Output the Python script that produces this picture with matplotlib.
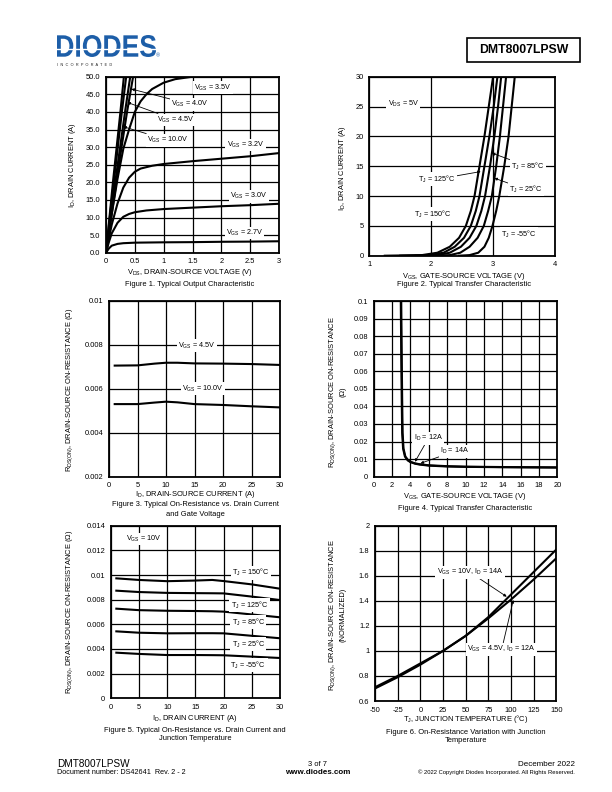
import numpy as np
import matplotlib
matplotlib.use('Agg')
import matplotlib.pyplot as plt
from matplotlib.textpath import TextPath
from matplotlib.font_manager import FontProperties
from matplotlib.patches import PathPatch, Rectangle
from matplotlib.transforms import Affine2D
from matplotlib.ticker import FixedLocator, FixedFormatter
from matplotlib.lines import Line2D

plt.rcParams['font.family'] = ['Liberation Sans', 'DejaVu Sans']
plt.rcParams['mathtext.fontset'] = 'custom'
plt.rcParams['mathtext.rm'] = 'Liberation Sans'
plt.rcParams['mathtext.it'] = 'Liberation Sans:italic'
plt.rcParams['mathtext.bf'] = 'Liberation Sans:bold'

# ---------------- DATA ----------------
# Figure 1: output characteristic
f1_vds_27 = [0, 0.05, 0.1, 0.2, 0.3, 0.5, 1.0, 1.5, 2.0, 2.5, 3.0]
f1_id_27 = [0, 1.2, 2.0, 2.5, 2.7, 2.85, 2.95, 3.0, 3.1, 3.15, 3.25]
f1_vds_30 = [0, 0.05, 0.1, 0.2, 0.3, 0.4, 0.5, 0.7, 1.0, 1.5, 2.0, 2.5, 3.0]
f1_id_30 = [0, 3.0, 5.5, 8.5, 10.2, 11.0, 11.5, 12.0, 12.4, 12.8, 13.2, 13.5, 13.9]
f1_vds_32 = [0, 0.05, 0.1, 0.2, 0.3, 0.4, 0.5, 0.6, 0.8, 1.0, 1.5, 2.0, 2.5, 3.0]
f1_id_32 = [0, 4.0, 8.0, 14.0, 18.5, 21.3, 23.0, 23.9, 24.7, 25.2, 26.0, 26.7, 27.4, 28.3]
f1_vds_35 = [0, 0.1, 0.2, 0.3, 0.4, 0.5, 0.6, 0.7, 0.8, 1.0, 1.2, 1.5]
f1_id_35 = [0, 11.0, 21.0, 29.5, 35.0, 40.0, 43.0, 45.0, 46.5, 48.3, 49.3, 50.0]
f1_id_steep = [0, 10, 20, 30, 40, 50]
f1_vds_40 = [0, 0.09, 0.18, 0.27, 0.365, 0.47]
f1_vds_45 = [0, 0.08, 0.16, 0.245, 0.33, 0.42]
f1_vds_50 = [0, 0.065, 0.135, 0.205, 0.275, 0.35]
f1_vds_100 = [0, 0.06, 0.12, 0.185, 0.25, 0.31]

# Figure 2: transfer characteristic
f2_id = [0, 0.1, 0.5, 1.5, 3, 5, 7.5, 10, 15, 20, 25, 30]
f2_vgs_150 = [1.25, 1.85, 2.10, 2.30, 2.45, 2.56, 2.64, 2.70, 2.78, 2.86, 2.93, 3.00]
f2_vgs_125 = [1.50, 1.95, 2.20, 2.38, 2.53, 2.64, 2.72, 2.78, 2.86, 2.94, 3.01, 3.07]
f2_vgs_85 = [1.75, 2.10, 2.30, 2.48, 2.62, 2.73, 2.81, 2.87, 2.95, 3.02, 3.08, 3.13]
f2_vgs_25 = [2.05, 2.30, 2.47, 2.62, 2.75, 2.85, 2.92, 2.98, 3.05, 3.11, 3.16, 3.21]
f2_vgs_m55 = [2.45, 2.62, 2.76, 2.86, 2.93, 2.99, 3.05, 3.10, 3.18, 3.25, 3.30, 3.35]

# Figure 3: Rds(on) vs Id and Vgs
f3_id = [1, 5, 8, 10, 12, 15, 20, 25, 30]
f3_r_45 = [0.00705, 0.00706, 0.00714, 0.00718, 0.00718, 0.00715, 0.00714, 0.00712, 0.00708]
f3_r_100 = [0.00530, 0.00530, 0.00537, 0.00541, 0.00538, 0.00530, 0.00526, 0.00520, 0.00515]

# Figure 4: Rds(on) vs Vgs
f4_vgs_12 = [2.95, 3.0, 3.05, 3.1, 3.2, 3.4, 3.7, 4.0, 4.5, 5, 6, 8, 10, 14, 20]
f4_r_12 = [0.1, 0.07, 0.045, 0.025, 0.016, 0.0115, 0.0093, 0.0083, 0.0074, 0.0069, 0.0063, 0.0058, 0.0056, 0.0054, 0.0052]
f4_vgs_14 = [3.0, 3.05, 3.1, 3.15, 3.25, 3.45, 3.75, 4.0, 4.5, 5, 6, 8, 10, 14, 20]
f4_r_14 = [0.1, 0.07, 0.045, 0.025, 0.016, 0.0115, 0.0094, 0.0085, 0.0076, 0.0071, 0.0065, 0.0060, 0.0057, 0.0055, 0.0053]

# Figure 5: Rds(on) vs Id and Tj
f5_id = [1, 5, 10, 15, 18, 20, 25, 30]
f5_r_150 = [0.00973, 0.00960, 0.00950, 0.00955, 0.00960, 0.00951, 0.00924, 0.00889]
f5_r_125 = [0.00873, 0.00862, 0.00855, 0.00853, 0.00852, 0.00851, 0.00825, 0.00797]
f5_r_85 = [0.00727, 0.00715, 0.00710, 0.00708, 0.00706, 0.00703, 0.00680, 0.00657]
f5_r_25 = [0.00543, 0.00532, 0.00527, 0.00528, 0.00528, 0.00527, 0.00507, 0.00487]
f5_r_m55 = [0.00370, 0.00360, 0.00351, 0.00351, 0.00350, 0.00349, 0.00338, 0.00327]

# Figure 6: normalized Rds(on) vs Tj
f6_tj = [-50, -25, 0, 25, 50, 75, 100, 125, 150]
f6_r_10v = [0.71, 0.80, 0.90, 1.00, 1.12, 1.27, 1.45, 1.63, 1.81]
f6_r_45v = [0.70, 0.79, 0.89, 1.00, 1.12, 1.26, 1.41, 1.57, 1.74]

# ---------------- LAYOUT ----------------
W, H = 612, 792
fig = plt.figure(figsize=(W / 100, H / 100), dpi=100)


def fx(x):
    return x / W


def fy(y):
    return 1 - y / H


def sub(a, s):
    return a + r"$_{\mathregular{" + s + "}}$"


TFS = 5.4   # tick font size
LFS = 5.4   # label font size
AFS = 5.2   # annotation font size


def make_axes(l, t, r, b, xlim, ylim, xticks, xlabels, yticks, ylabels):
    ax = fig.add_axes([fx(l), fy(b), (r - l) / W, (b - t) / H])
    ax.set_xlim(*xlim)
    ax.set_ylim(*ylim)
    ax.xaxis.set_major_locator(FixedLocator(xticks))
    ax.xaxis.set_major_formatter(FixedFormatter(xlabels))
    ax.yaxis.set_major_locator(FixedLocator(yticks))
    ax.yaxis.set_major_formatter(FixedFormatter(ylabels))
    ax.tick_params(length=0, labelsize=TFS, pad=4)
    for s in ax.spines.values():
        s.set_linewidth(1.3)
    ax.grid(True, color='black', lw=0.9)
    ax.set_axisbelow(True)
    return ax


def label(ax, x, y, s):
    ax.text(x, y, s, fontsize=AFS, ha='center', va='center', zorder=5,
            bbox=dict(fc='white', ec='none', pad=1.0))


def arrow(ax, xy_text, xy_head, s):
    ax.annotate(s, xy=xy_head, xytext=xy_text, fontsize=AFS, ha='center', va='center',
                zorder=5, bbox=dict(fc='white', ec='none', pad=1.0),
                arrowprops=dict(arrowstyle='-|>', color='black', lw=0.6,
                                mutation_scale=4, shrinkA=0, shrinkB=0))


LW = 1.5

# ---- Figure 1 ----
ax1 = make_axes(106, 76.7, 279, 252.7, (0, 3), (0, 50),
                [0, 0.5, 1, 1.5, 2, 2.5, 3], ['0', '0.5', '1', '1.5', '2', '2.5', '3'],
                list(range(0, 51, 5)), ['%.1f' % v for v in range(0, 51, 5)])
for xs, ys in [(f1_vds_27, f1_id_27), (f1_vds_30, f1_id_30), (f1_vds_32, f1_id_32),
               (f1_vds_35, f1_id_35), (f1_vds_40, f1_id_steep), (f1_vds_45, f1_id_steep),
               (f1_vds_50, f1_id_steep), (f1_vds_100, f1_id_steep)]:
    ax1.plot(xs, ys, color='black', lw=LW, clip_on=True, zorder=3)
label(ax1, 1.86, 46.8, sub('V', 'GS') + ' = 3.5V')
arrow(ax1, (1.46, 42.2), (0.44, 46.5), sub('V', 'GS') + ' = 4.0V')
arrow(ax1, (1.21, 37.7), (0.37, 42.7), sub('V', 'GS') + ' = 4.5V')
arrow(ax1, (1.07, 32.0), (0.30, 35.8), sub('V', 'GS') + ' = 10.0V')
label(ax1, 2.42, 30.6, sub('V', 'GS') + ' = 3.2V')
label(ax1, 2.48, 16.1, sub('V', 'GS') + ' = 3.0V')
label(ax1, 2.40, 5.6, sub('V', 'GS') + ' = 2.7V')

# ---- Figure 2 ----
ax2 = make_axes(369.3, 76.7, 555, 255.7, (1, 4), (0, 30),
                [1, 2, 3, 4], ['1', '2', '3', '4'],
                list(range(0, 31, 5)), [str(v) for v in range(0, 31, 5)])
for xs in [f2_vgs_150, f2_vgs_125, f2_vgs_85, f2_vgs_25, f2_vgs_m55]:
    ax2.plot(xs, f2_id, color='black', lw=LW, zorder=3)
label(ax2, 1.55, 25.5, sub('V', 'DS') + ' = 5V')
arrow(ax2, (3.56, 15.0), (2.98, 17.2), sub('T', 'J') + ' = 85\u00b0C')
arrow(ax2, (2.09, 12.8), (2.80, 14.1), sub('T', 'J') + ' = 125\u00b0C')
arrow(ax2, (3.53, 11.1), (3.02, 13.0), sub('T', 'J') + ' = 25\u00b0C')
label(ax2, 2.02, 7.0, sub('T', 'J') + ' = 150\u00b0C')
label(ax2, 3.42, 3.6, sub('T', 'J') + ' = -55\u00b0C')

# ---- Figure 3 ----
ax3 = make_axes(109, 300.7, 280, 476.7, (0, 30), (0.002, 0.01),
                list(range(0, 31, 5)), [str(v) for v in range(0, 31, 5)],
                [0.002, 0.004, 0.006, 0.008, 0.01], ['0.002', '0.004', '0.006', '0.008', '0.01'])
ax3.plot(f3_id, f3_r_45, color='black', lw=LW, zorder=3)
ax3.plot(f3_id, f3_r_100, color='black', lw=LW, zorder=3)
label(ax3, 15.4, 0.00795, sub('V', 'GS') + ' = 4.5V')
label(ax3, 16.5, 0.00599, sub('V', 'GS') + ' = 10.0V')

# ---- Figure 4 ----
ax4 = make_axes(373.7, 301, 557.3, 476.7, (0, 20), (0, 0.1),
                list(range(0, 21, 2)), [str(v) for v in range(0, 21, 2)],
                [i / 100 for i in range(0, 11)], ['0'] + ['%.2f' % (i / 100) for i in range(1, 10)] + ['0.1'])
ax4.plot(f4_vgs_12, f4_r_12, color='black', lw=LW, zorder=3)
ax4.plot(f4_vgs_14, f4_r_14, color='black', lw=LW, zorder=3)
arrow(ax4, (5.95, 0.0218), (4.5, 0.0085), sub('I', 'D') + ' = 12A')
arrow(ax4, (8.85, 0.0145), (5.1, 0.0076), sub('I', 'D') + ' = 14A')

# ---- Figure 5 ----
ax5 = make_axes(110.7, 525.7, 280, 698.3, (0, 30), (0, 0.014),
                list(range(0, 31, 5)), [str(v) for v in range(0, 31, 5)],
                [0, 0.002, 0.004, 0.006, 0.008, 0.01, 0.012, 0.014],
                ['0', '0.002', '0.004', '0.006', '0.008', '0.01', '0.012', '0.014'])
for ys in [f5_r_150, f5_r_125, f5_r_85, f5_r_25, f5_r_m55]:
    ax5.plot(f5_id, ys, color='black', lw=LW, zorder=3)
label(ax5, 5.8, 0.01292, sub('V', 'GS') + ' = 10V')
label(ax5, 24.9, 0.0102, sub('T', 'J') + ' = 150\u00b0C')
label(ax5, 24.6, 0.00757, sub('T', 'J') + ' = 125\u00b0C')
label(ax5, 24.4, 0.00616, sub('T', 'J') + ' = 85\u00b0C')
label(ax5, 24.4, 0.0044, sub('T', 'J') + ' = 25\u00b0C')
label(ax5, 24.4, 0.0027, sub('T', 'J') + ' = -55\u00b0C')

# ---- Figure 6 ----
ax6 = make_axes(375, 525.7, 556.3, 701, (-50, 150), (0.6, 2.0),
                list(range(-50, 151, 25)), [str(v) for v in range(-50, 151, 25)],
                [0.6, 0.8, 1.0, 1.2, 1.4, 1.6, 1.8, 2.0], ['0.6', '0.8', '1', '1.2', '1.4', '1.6', '1.8', '2'])
ax6.plot(f6_tj, f6_r_10v, color='black', lw=LW, zorder=3)
ax6.plot(f6_tj, f6_r_45v, color='black', lw=LW, zorder=3)
arrow(ax6, (54.8, 1.628), (95.3, 1.433), sub('V', 'GS') + ' = 10V, ' + sub('I', 'D') + ' = 14A')
arrow(ax6, (89.8, 1.013), (102.6, 1.407), sub('V', 'GS') + ' = 4.5V, ' + sub('I', 'D') + ' = 12A')

# ---- axis titles / captions ----
def ftext(x, y, s, **kw):
    kw.setdefault('fontsize', LFS)
    kw.setdefault('ha', 'center')
    kw.setdefault('va', 'center')
    fig.text(fx(x), fy(y), s, **kw)


rds = sub('R', 'DS(ON)') + ', DRAIN-SOURCE ON-RESISTANCE'
ftext(72, 165, sub('I', 'D') + ', DRAIN CURRENT (A)', rotation=90)
ftext(190, 273, sub('V', 'DS') + ', DRAIN-SOURCE VOLTAGE (V)')
ftext(190, 284, 'Figure 1. Typical Output Characteristic')

ftext(343, 168, sub('I', 'D') + ', DRAIN CURRENT (A)', rotation=90)
ftext(464, 276, sub('V', 'GS') + ', GATE-SOURCE VOLTAGE (V)')
ftext(464, 285, 'Figure 2. Typical Transfer Characteristic')

ftext(70, 390, rds + ' (\u03a9)', rotation=90)
ftext(195, 495, sub('I', 'D') + ', DRAIN-SOURCE CURRENT (A)')
ftext(195, 505, 'Figure 3. Typical On-Resistance vs. Drain Current')
ftext(195, 514, 'and Gate Voltage')

ftext(333, 392, rds, rotation=90)
ftext(343, 392, '(\u03a9)', rotation=90)
ftext(465, 496, sub('V', 'GS') + ', GATE-SOURCE VOLTAGE (V)')
ftext(465, 508, 'Figure 4. Typical Transfer Characteristic')

ftext(70, 612, rds + ' (\u03a9)', rotation=90)
ftext(195, 718, sub('I', 'D') + ', DRAIN CURRENT (A)')
ftext(195, 730, 'Figure 5. Typical On-Resistance vs. Drain Current and')
ftext(195, 739, 'Junction Temperature')

ftext(333, 615, rds, rotation=90)
ftext(343, 615, '(NORMALIZED)', rotation=90)
ftext(466, 719, sub('T', 'J') + ', JUNCTION TEMPERATURE (\u00b0C)')
ftext(466, 732, 'Figure 6. On-Resistance Variation with Junction')
ftext(466, 741, 'Temperature')

# ---- header ----
blue = '#1d5ea8'
tp = TextPath((0, 0), 'DIODES', size=1, prop=FontProperties(family='Liberation Sans', weight='bold'))
ext = tp.get_extents()
x0, y0, x1, y1 = 57, 35, 156, 57
sx = (x1 - x0) / W / ext.width
sy = (y1 - y0) / H / ext.height
tr = Affine2D().translate(-ext.x0, -ext.y0).scale(sx, sy).translate(fx(x0), fy(y1))
fig.patches.append(PathPatch(tr.transform_path(tp), fc=blue, ec='none', transform=fig.transFigure))
fig.lines.append(Line2D([fx(57), fx(156)], [fy(49), fy(49)], color='white', lw=1.0, transform=fig.transFigure))
ftext(158, 56, '\u00ae', fontsize=4, color=blue)
ftext(57, 65, 'I  N  C  O  R  P  O  R  A  T  E  D', fontsize=2.8, ha='left', color='#222222')

fig.patches.append(Rectangle((fx(467), fy(62)), (580 - 467) / W, 24 / H, fill=False, ec='black', lw=1.2,
                             transform=fig.transFigure))
ftext(523.5, 50, 'DMT8007LPSW', fontsize=8.8, fontweight='bold')

# ---- footer ----
ftext(57, 764, 'DMT8007LPSW', fontsize=7.2, ha='left')
ftext(57, 773, 'Document number: DS42641  Rev. 2 - 2', fontsize=5.2, ha='left')
ftext(318, 764, '3 of 7', fontsize=5.4)
ftext(318, 773, 'www.diodes.com', fontsize=5.8, fontweight='bold')
ftext(575, 764, 'December 2022', fontsize=5.8, ha='right')
ftext(575, 772.5, '\u00a9 2022 Copyright Diodes Incorporated. All Rights Reserved.', fontsize=4.2, ha='right')

fig.savefig('out.png', dpi=100)
